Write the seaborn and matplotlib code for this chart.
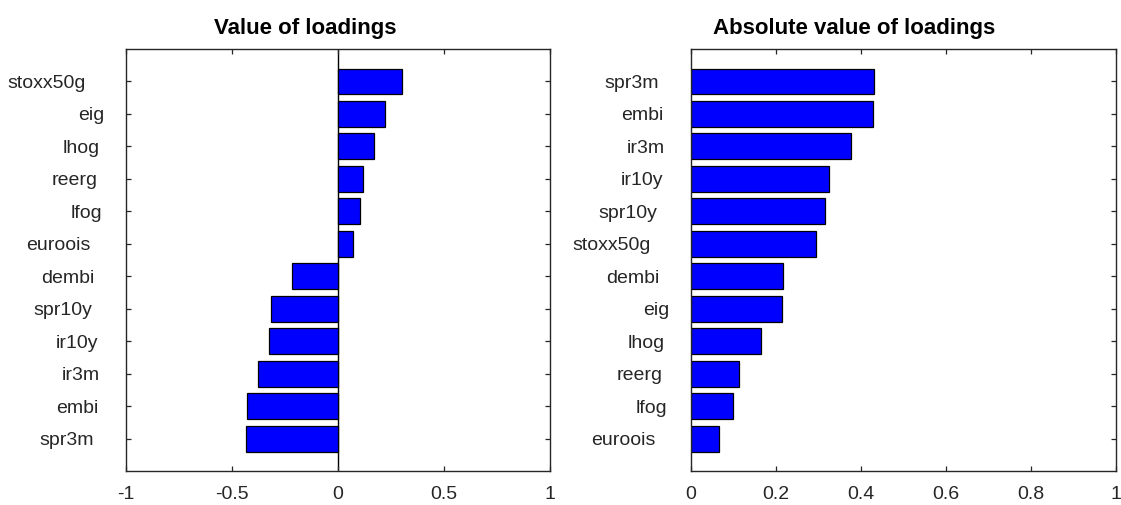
import matplotlib
matplotlib.use("Agg")
import matplotlib.pyplot as plt
from matplotlib.transforms import ScaledTranslation
import seaborn as sns
import pandas as pd

# ---- data ----
labels_val = ["stoxx50g", "eig", "lhog", "reerg", "lfog", "euroois",
              "dembi", "spr10y", "ir10y", "ir3m", "embi", "spr3m"]
loadings_val = [0.301, 0.219, 0.168, 0.116, 0.104, 0.071,
                -0.215, -0.316, -0.326, -0.377, -0.429, -0.432]

labels_abs = ["spr3m", "embi", "ir3m", "ir10y", "spr10y", "stoxx50g",
              "dembi", "eig", "lhog", "reerg", "lfog", "euroois"]
loadings_abs = [0.431, 0.429, 0.376, 0.326, 0.317, 0.296,
                0.218, 0.215, 0.165, 0.113, 0.100, 0.067]

xticks_left = [-1, -0.5, 0, 0.5, 1]
xticks_right = [0, 0.2, 0.4, 0.6, 0.8, 1]
title_left = "Value of loadings"
title_right = "Absolute value of loadings"

# ---- style ----
sns.set_theme(style="white")
plt.rcParams["font.family"] = ["Liberation Sans", "DejaVu Sans"]
axcol = "#262626"

fig = plt.figure(figsize=(11.21, 5.05), dpi=100)
ax1 = fig.add_axes([0.112, 0.0673, 0.379, 0.8356])
ax2 = fig.add_axes([0.616, 0.0673, 0.3796, 0.8356])

df1 = pd.DataFrame({"name": labels_val, "value": loadings_val})
df2 = pd.DataFrame({"name": labels_abs, "value": loadings_abs})

for ax, df, xt, xl, title, tx in [
    (ax1, df1, xticks_left, (-1, 1), title_left, 0.424),
    (ax2, df2, xticks_right, (0, 1), title_right, 0.384),
]:
    sns.barplot(data=df, x="value", y="name", orient="h", ax=ax,
                color="#0000ff", saturation=1, width=0.8,
                edgecolor="black", linewidth=0.9)
    n = len(df)
    ax.set_ylim(n, -1)
    ax.set_xlim(*xl)
    ax.set_xticks(xt)
    ax.set_xticklabels([("%g" % v) for v in xt])
    ax.set_xlabel("")
    ax.set_ylabel("")
    for s in ax.spines.values():
        s.set_visible(True)
        s.set_color(axcol)
        s.set_linewidth(1.0)
    ax.tick_params(axis="both", which="both", direction="in", length=3.6,
                   width=0.9, color=axcol, labelcolor=axcol, labelsize=14,
                   top=True, right=True, bottom=True, left=True)
    ax.tick_params(axis="y", pad=9)
    ax.tick_params(axis="x", pad=11)
    ax.set_title(title, fontsize=16, fontweight="bold", x=tx, pad=11,
                 color="black")
    ax.grid(False)

ax1.axvline(0, color="black", linewidth=1.0, zorder=0.5)

# mimic the ragged label placement of the original (shift proportional to width)
fig.canvas.draw()
renderer = fig.canvas.get_renderer()
for ax in (ax1, ax2):
    for lab in ax.get_yticklabels():
        w = lab.get_window_extent(renderer).width
        off = ScaledTranslation(-0.345 * w / fig.dpi, 0, fig.dpi_scale_trans)
        lab.set_transform(lab.get_transform() + off)

fig.savefig("out.png", dpi=100)
